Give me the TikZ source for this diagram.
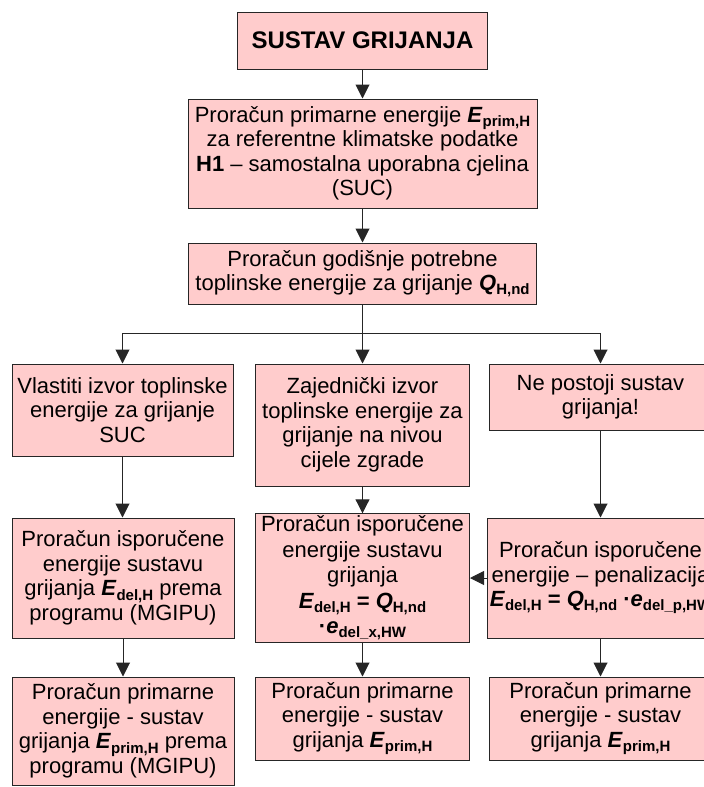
\documentclass[tikz,border=0pt]{standalone}
\usepackage{fontspec}
\setmainfont{Liberation Sans}
\usetikzlibrary{arrows.meta}
\definecolor{boxpink}{HTML}{FFCCCC}
\newcommand{\bsub}[1]{\raisebox{-0.35ex}{\fontsize{15}{15}\selectfont\bfseries #1}}
\newcommand{\bitl}[1]{\textbf{\textit{#1}}}
\begin{document}
\begin{tikzpicture}[x=1pt,y=1pt,
  pbox/.style={draw=black!85, line width=1pt, fill=boxpink, align=center, inner sep=2pt,
    font=\fontsize{22}{24.5}\selectfont},
  conn/.style={line width=1pt, draw=black!85},
  arr/.style={conn, -{Triangle[width=14pt,length=14pt]}}]
\useasboundingbox (0,0) rectangle (704,-787);
\clip (0,0) rectangle (704,-787);

\node[pbox, minimum width=250pt, minimum height=57pt, font=\fontsize{24}{28}\selectfont\bfseries] (t) at (362.5,-40.5) {SUSTAV GRIJANJA};
\node[pbox, minimum width=349pt, minimum height=109pt] (n2) at (362.5,-153.5)
  {Proračun primarne energije \bitl{E}\bsub{prim,H}\\ za referentne klimatske podatke\\ \textbf{H1} – samostalna uporabna cjelina\\ (SUC)};
\node[pbox, minimum width=348pt, minimum height=61pt] (n3) at (362.5,-273.5)
  {Proračun godišnje potrebne\\ toplinske energije za grijanje \bitl{Q}\bsub{H,nd}};

\node[pbox, minimum width=221pt, minimum height=92pt] (a4) at (122.5,-410)
  {Vlastiti izvor toplinske\\ energije za grijanje\\ SUC};
\node[pbox, minimum width=214pt, minimum height=122pt] (b4) at (362.5,-425)
  {Zajednički izvor\\ toplinske energije za\\ grijanje na nivou\\ cijele zgrade};
\node[pbox, minimum width=223pt, minimum height=66pt] (c4) at (600.5,-397)
  {Ne postoji sustav\\ grijanja!};

\node[pbox, minimum width=222pt, minimum height=120pt] (a5) at (123,-578)
  {Proračun isporučene\\ energije sustavu\\ grijanja \bitl{E}\bsub{del,H} prema\\ programu (MGIPU)};
\node[pbox, minimum width=214pt, minimum height=120pt, font=\fontsize{22}{25.5}\selectfont] (b5) at (362.5,-578)
  {Proračun isporučene\\ energije sustavu\\ grijanja\\ \bitl{E}\bsub{del,H} \textbf{=} \bitl{Q}\bsub{H,nd}\\ \textbf{·}\bitl{e}\bsub{del\_x,HW}};
\node[pbox, minimum width=223pt, minimum height=120pt] (c5) at (600.5,-578)
  {Proračun isporučene\\ energije – penalizacija\\ \bitl{E}\bsub{del,H} \textbf{=} \bitl{Q}\bsub{H,nd} \textbf{·}\bitl{e}\bsub{del\_p,HW}};

\node[pbox, minimum width=222pt, minimum height=108pt] (a6) at (123,-731)
  {Proračun primarne\\ energije - sustav\\ grijanja \bitl{E}\bsub{prim,H} prema\\ programu (MGIPU)};
\node[pbox, minimum width=214pt, minimum height=83pt] (b6) at (362.5,-718.5)
  {Proračun primarne\\ energije - sustav\\ grijanja \bitl{E}\bsub{prim,H}};
\node[pbox, minimum width=223pt, minimum height=83pt] (c6) at (600.5,-718.5)
  {Proračun primarne\\ energije - sustav\\ grijanja \bitl{E}\bsub{prim,H}};

\coordinate (jl) at (122.5,-333);
\coordinate (jr) at (600.5,-333);

\draw[arr] (t) -- (n2);
\draw[arr] (n2) -- (n3);
\draw[arr] (n3.south) -- (b4.north);
\draw[conn] (jl) -- (jr);
\draw[arr] (jl) -- (a4.north);
\draw[arr] (jr) -- (c4.north);

\draw[arr] (a4.south) -- (a4.south |- a5.north);
\draw[arr] (b4) -- (b5);
\draw[arr] (c4.south) -- (c4.south |- c5.north);
\draw[arr] (c5.west) -- (b5.east);

\draw[arr] (a5.south) -- (a5.south |- a6.north);
\draw[arr] (b5) -- (b6);
\draw[arr] (c5) -- (c6);
\end{tikzpicture}
\end{document}
